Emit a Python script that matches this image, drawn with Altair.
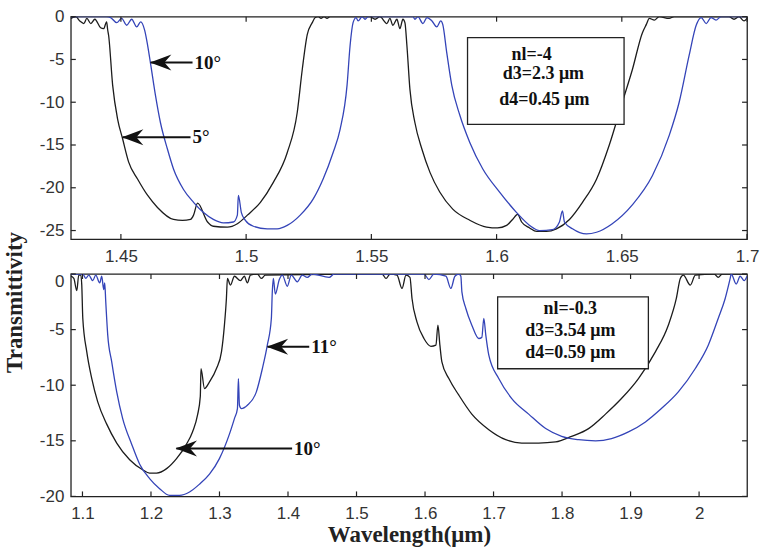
import altair as alt
import pandas as pd

# ---------------- data ----------------
# top panel: nl=-4, 5 deg (black) and 10 deg (blue)
top_5deg = [
    (1.4300, -0.2), (1.4320, 0.0), (1.4336, -0.5), (1.4352, -0.8), (1.4364, -0.2),
    (1.4380, -0.8), (1.4396, -0.3), (1.4419, -1.3), (1.4431, -1.4), (1.4443, -0.6),
    (1.4447, -1.5), (1.4451, -2.2), (1.4467, -8.0), (1.4487, -12.0), (1.4507, -14.3),
    (1.4531, -17.0), (1.4567, -19.0), (1.4607, -20.9), (1.4646, -22.3), (1.4710, -23.7),
    (1.4746, -23.8), (1.4778, -23.7), (1.4790, -23.2), (1.4806, -21.8), (1.4846, -24.0),
    (1.4869, -24.5), (1.4925, -24.6), (1.4965, -24.2), (1.5005, -23.2), (1.5057, -21.7),
    (1.5108, -19.4), (1.5164, -15.9), (1.5204, -11.2), (1.5224, -6.2), (1.5244, -2.1),
    (1.5264, -0.7), (1.5276, -0.1), (1.5288, 0.0), (1.5299, -0.2), (1.5311, 0.0),
    (1.5323, -0.2), (1.5335, 0.0), (1.5495, 0.0), (1.5515, -0.3), (1.5534, 0.0),
    (1.5562, -0.8), (1.5574, -0.2), (1.5586, -1.0), (1.5602, -0.3), (1.5614, -1.4),
    (1.5626, -0.3), (1.5634, -0.7), (1.5642, -3.4), (1.5654, -8.5), (1.5674, -12.4),
    (1.5702, -15.5), (1.5734, -18.2), (1.5773, -20.5), (1.5825, -22.5), (1.5893, -23.8),
    (1.5960, -24.6), (1.6004, -24.7), (1.6040, -24.4), (1.6064, -23.7), (1.6084, -23.1),
    (1.6100, -24.0), (1.6132, -24.7), (1.6160, -25.1), (1.6199, -25.1), (1.6239, -24.8),
    (1.6291, -23.7), (1.6343, -21.7), (1.6399, -19.0), (1.6450, -15.0), (1.6502, -10.0),
    (1.6542, -6.2), (1.6582, -1.9), (1.6598, -0.9), (1.6610, -0.2), (1.6630, -0.4),
    (1.6649, 0.0), (1.6689, -0.2), (1.6709, 0.0), (1.6928, 0.0), (1.6948, -0.3),
    (1.6968, 0.0), (1.6988, -0.5), (1.7000, -0.2),
]
top_10deg = [
    (1.4300, 0.0), (1.4443, 0.0), (1.4459, -0.1), (1.4483, -0.7), (1.4503, -0.2),
    (1.4523, -1.0), (1.4543, -0.3), (1.4563, -1.2), (1.4579, -0.6), (1.4595, -1.6),
    (1.4607, -3.4), (1.4619, -5.6), (1.4638, -9.2), (1.4658, -12.4), (1.4686, -15.5),
    (1.4710, -17.8), (1.4750, -20.2), (1.4790, -21.7), (1.4830, -22.9), (1.4869, -23.7),
    (1.4909, -24.1), (1.4949, -24.0), (1.4965, -23.2), (1.4969, -20.9), (1.4981, -22.9),
    (1.4997, -23.8), (1.5029, -24.5), (1.5084, -24.8), (1.5124, -24.8), (1.5164, -24.4),
    (1.5216, -23.2), (1.5268, -21.3), (1.5307, -19.0), (1.5347, -15.9), (1.5375, -13.2),
    (1.5403, -8.0), (1.5415, -3.4), (1.5427, -0.7), (1.5439, -0.1), (1.5447, -0.5),
    (1.5463, 0.0), (1.5475, -0.3), (1.5487, 0.0), (1.5666, 0.0), (1.5674, -0.3),
    (1.5686, 0.0), (1.5706, -0.8), (1.5722, -0.1), (1.5742, -0.5), (1.5761, -1.2),
    (1.5777, -0.5), (1.5785, -0.9), (1.5801, -4.2), (1.5821, -8.0), (1.5853, -11.5),
    (1.5893, -14.7), (1.5945, -17.8), (1.6012, -20.5), (1.6080, -22.9), (1.6132, -24.4),
    (1.6172, -25.0), (1.6223, -24.9), (1.6251, -24.0), (1.6263, -22.7), (1.6271, -24.0),
    (1.6303, -24.8), (1.6359, -25.4), (1.6399, -25.2), (1.6462, -24.2), (1.6542, -22.0),
    (1.6622, -18.6), (1.6689, -13.9), (1.6729, -10.0), (1.6769, -4.5), (1.6797, -1.0),
    (1.6817, -0.1), (1.6837, -0.8), (1.6856, -0.1), (1.6876, -0.4), (1.6896, 0.0),
    (1.7000, 0.0),
]
# bottom panel: nl=-0.3, 10 deg (black) and 11 deg (blue)
bot_10deg = [
    (1.0830, -0.2), (1.0874, -0.4), (1.0917, -1.5), (1.0946, -0.1), (1.0976, -0.1),
    (1.0990, -1.0), (1.1005, -4.0), (1.1063, -7.0), (1.1136, -9.4), (1.1223, -11.5),
    (1.1354, -13.5), (1.1500, -15.2), (1.1689, -16.7), (1.1878, -17.6), (1.1980, -17.9),
    (1.2082, -17.9), (1.2228, -17.5), (1.2373, -16.6), (1.2519, -15.3), (1.2606, -14.2),
    (1.2679, -12.7), (1.2720, -11.0), (1.2730, -8.5), (1.2781, -10.3), (1.2854, -9.7),
    (1.2956, -8.5), (1.3029, -7.0), (1.3072, -4.6), (1.3101, -2.2), (1.3116, -0.4),
    (1.3160, -1.0), (1.3218, -0.2), (1.3305, -0.6), (1.3363, -0.2), (1.3407, -0.8),
    (1.3451, -0.1), (1.3553, 0.0), (1.3611, -0.4), (1.3669, -0.1), (1.5373, 0.0),
    (1.5431, -0.4), (1.5490, 0.0), (1.5591, -0.1), (1.5664, -1.3), (1.5722, -0.1),
    (1.5780, -0.3), (1.5810, -2.2), (1.5882, -4.3), (1.5984, -5.8), (1.6086, -6.5),
    (1.6159, -6.4), (1.6188, -4.6), (1.6217, -6.4), (1.6246, -7.9), (1.6348, -9.4),
    (1.6494, -10.9), (1.6683, -12.6), (1.6931, -14.0), (1.7178, -14.9), (1.7411, -15.2),
    (1.7659, -15.2), (1.7906, -15.1), (1.8139, -14.6), (1.8387, -13.9), (1.8634, -12.6),
    (1.8867, -11.2), (1.9115, -9.4), (1.9362, -7.0), (1.9551, -4.6), (1.9668, -2.2),
    (1.9726, -0.4), (1.9770, -0.1), (1.9872, -1.0), (1.9945, -0.1), (2.0220, 0.0),
    (2.0279, -0.3), (2.0340, 0.0), (2.0700, 0.0),
]
bot_11deg = [
    (1.0830, 0.0), (1.0990, 0.0), (1.1019, -0.1), (1.1048, -0.4), (1.1092, -0.1),
    (1.1150, -0.6), (1.1194, -0.1), (1.1252, -0.8), (1.1281, -0.2), (1.1310, -1.4),
    (1.1325, -0.8), (1.1340, -2.5), (1.1369, -5.5), (1.1427, -7.9), (1.1500, -10.6),
    (1.1587, -13.0), (1.1718, -15.3), (1.1835, -17.1), (1.1980, -18.4), (1.2126, -19.3),
    (1.2271, -19.9), (1.2417, -19.9), (1.2563, -19.6), (1.2708, -18.9), (1.2854, -18.0),
    (1.2999, -16.6), (1.3145, -14.4), (1.3218, -13.0), (1.3262, -12.1), (1.3276, -9.4),
    (1.3291, -11.8), (1.3320, -12.1), (1.3407, -11.8), (1.3538, -10.6), (1.3626, -8.5),
    (1.3698, -6.4), (1.3757, -4.0), (1.3771, -1.6), (1.3786, -0.4), (1.3815, -1.8),
    (1.3873, -0.5), (1.3917, -0.1), (1.3990, -1.1), (1.4048, -0.1), (1.4135, -0.7),
    (1.4208, -0.1), (1.4281, -0.3), (1.4354, 0.0), (1.4601, -0.3), (1.4674, 0.0),
    (1.5984, 0.0), (1.6057, -0.5), (1.6130, 0.0), (1.6305, -0.2), (1.6377, -1.3),
    (1.6436, -0.2), (1.6494, 0.0), (1.6523, -0.2), (1.6538, -1.6), (1.6596, -3.1),
    (1.6683, -4.6), (1.6785, -5.8), (1.6829, -5.7), (1.6858, -4.0), (1.6887, -5.5),
    (1.6931, -7.3), (1.7076, -9.4), (1.7266, -11.2), (1.7513, -12.6), (1.7761, -13.9),
    (1.7994, -14.6), (1.8241, -14.9), (1.8489, -15.0), (1.8722, -14.8), (1.8969, -14.2),
    (1.9217, -13.3), (1.9450, -12.1), (1.9697, -10.6), (1.9945, -8.5), (2.0134, -6.4),
    (2.0279, -4.0), (2.0381, -2.2), (2.0454, -0.4), (2.0469, 0.0), (2.0542, -0.9),
    (2.0600, -0.2), (2.0658, -0.6), (2.0700, -0.2),
]

top_xdomain = [1.43, 1.70]
top_ydomain = [-26, 0]
bot_xdomain = [1.083, 2.07]
bot_ydomain = [-20, 0]

top_xticks = [1.45, 1.5, 1.55, 1.6, 1.65, 1.7]
top_yticks = [0, -5, -10, -15, -20, -25]
bot_xticks = [1.1, 1.2, 1.3, 1.4, 1.5, 1.6, 1.7, 1.8, 1.9, 2]
bot_yticks = [0, -5, -10, -15, -20]

top_box_lines = ["nl=-4", "d3=2.3 μm", "d4=0.45 μm"]
top_box_line_x = [1.6140, 1.6187, 1.6191]
top_box_line_y = [-4.43, -6.76, -9.79]
top_box_corners = [1.5884, 1.6509, -2.45, -12.6]

bot_box_lines = ["nl=-0.3", "d3=3.54 μm", "d4=0.59 μm"]
bot_box_line_x = [1.812, 1.812, 1.812]
bot_box_line_y = [-3.14, -5.11, -7.09]
bot_box_corners = [1.706, 1.926, -2.06, -8.52]

top_arrow_labels = ["10°", "5°"]
top_arrow_tip = [1.4619, 1.4507]
top_arrow_tail = [1.4786, 1.4778]
top_arrow_y = [-5.36, -14.1]

bot_arrow_labels = ["11°", "10°"]
bot_arrow_tip = [1.370, 1.237]
bot_arrow_tail = [1.431, 1.406]
bot_arrow_y = [-6.55, -15.7]

# ---------------- styling ----------------
W, H = 678, 223
BLACK = "#1c1c1c"
BLUE = "#3444b8"
FRAME = "#222222"
SANS = "Liberation Sans"
SERIF = "Liberation Serif"
ARROW_PATH = "M -1 0 L 1 -0.75 L 0.35 0 L 1 0.75 Z"


def panel(curves, xdom, ydom, xticks, yticks, box, box_lines, box_x, box_y,
          a_labels, a_tip, a_tail, a_y, xtitle, ytitle, zero_lower):
    xs = alt.Scale(domain=xdom, nice=False, zero=False)
    ys = alt.Scale(domain=ydom, nice=False, zero=False)

    xaxis_kw = dict(values=xticks, labelExpr="'' + datum.value", ticks=False,
                    domain=False, grid=False, labelFont=SANS, labelFontSize=17,
                    labelColor="#333", labelPadding=9, labelFlush=False)
    if xtitle:
        xaxis_kw.update(title=xtitle, titleFont=SERIF, titleFontWeight="bold",
                        titleFontSize=23, titleColor="#222", titlePadding=2)
    else:
        xaxis_kw.update(title=None)
    yaxis_kw = dict(values=yticks, labelExpr="'' + datum.value", ticks=False,
                    domain=False, grid=False, labelFont=SANS, labelFontSize=17,
                    labelColor="#333", labelPadding=7)
    if zero_lower:
        yaxis_kw["labelBaseline"] = {"condition": {"test": "datum.value == 0", "value": "top"},
                                     "value": "middle"}
    if ytitle:
        yaxis_kw.update(title=ytitle, titleFont=SERIF, titleFontWeight="bold",
                        titleFontSize=23, titleColor="#222", titleAngle=270,
                        titleAlign="center", titleBaseline="middle",
                        titleX=-56, titleY=286)
    else:
        yaxis_kw.update(title=None)

    xaxis = alt.Axis(**xaxis_kw)
    yaxis = alt.Axis(**yaxis_kw)

    def X(f):
        return alt.X(f, scale=xs, axis=xaxis)

    def Y(f):
        return alt.Y(f, scale=ys, axis=yaxis)

    layers = []
    for pts, color in curves:
        df = pd.DataFrame(pts, columns=["wl", "t"])
        layers.append(
            alt.Chart(df).mark_line(color=color, strokeWidth=1.3, clip=True,
                                    interpolate="monotone").encode(
                x=X("wl:Q"), y=Y("t:Q"), order="wl:Q",
            )
        )

    # inward ticks on all four sides
    xt = pd.DataFrame({"v": xticks})
    yt = pd.DataFrame({"v": yticks})
    for y0, y1 in [(H, H - 5), (0, 5)]:
        layers.append(alt.Chart(xt).mark_rule(color=FRAME, strokeWidth=1.2).encode(
            x=X("v:Q"), y=alt.value(y0), y2=alt.value(y1)))
    for x0, x1 in [(0, 5), (W, W - 5)]:
        layers.append(alt.Chart(yt).mark_rule(color=FRAME, strokeWidth=1.2).encode(
            y=Y("v:Q"), x=alt.value(x0), x2=alt.value(x1)))

    # parameter box
    bdf = pd.DataFrame({"x1": [box[0]], "x2": [box[1]], "y1": [box[2]], "y2": [box[3]]})
    layers.append(alt.Chart(bdf).mark_rect(fill="white", stroke=FRAME, strokeWidth=1.3).encode(
        x=X("x1:Q"), x2="x2:Q", y=Y("y1:Q"), y2="y2:Q"))
    tdf = pd.DataFrame({"x": box_x, "y": box_y, "s": box_lines})
    layers.append(alt.Chart(tdf).mark_text(font=SERIF, fontWeight="bold", fontSize=18,
                                           color="#111", align="center", baseline="middle").encode(
        x=X("x:Q"), y=Y("y:Q"), text="s:N"))

    # arrows
    adf = pd.DataFrame({"tip": a_tip, "tail": a_tail, "y": a_y, "s": a_labels})
    layers.append(alt.Chart(adf).mark_rule(color="#111", strokeWidth=2).encode(
        x=X("tip:Q"), x2="tail:Q", y=Y("y:Q")))
    layers.append(alt.Chart(adf).mark_point(shape=ARROW_PATH, filled=True, size=460,
                                            color="#111", opacity=1, xOffset=10).encode(
        x=X("tip:Q"), y=Y("y:Q")))
    layers.append(alt.Chart(adf).mark_text(font=SERIF, fontWeight="bold", fontSize=19,
                                           color="#111", align="left", baseline="middle", dx=2).encode(
        x=X("tail:Q"), y=Y("y:Q"), text="s:N"))

    return alt.layer(*layers).properties(width=W, height=H)


top = panel([(top_5deg, BLACK), (top_10deg, BLUE)], top_xdomain, top_ydomain,
            top_xticks, top_yticks, top_box_corners, top_box_lines, top_box_line_x,
            top_box_line_y, top_arrow_labels, top_arrow_tip, top_arrow_tail, top_arrow_y,
            None, "Transmittivity", False)
bottom = panel([(bot_10deg, BLACK), (bot_11deg, BLUE)], bot_xdomain, bot_ydomain,
               bot_xticks, bot_yticks, bot_box_corners, bot_box_lines, bot_box_line_x,
               bot_box_line_y, bot_arrow_labels, bot_arrow_tip, bot_arrow_tail, bot_arrow_y,
               "Wavelength(μm)", None, True)

chart = alt.vconcat(top, bottom, spacing=35, bounds="flush").configure_view(
    stroke=FRAME, strokeWidth=1.3
).properties(
    padding={"left": 3, "top": 6, "right": 2, "bottom": 4},
    background="white",
)

chart.save("out.html", embed_options={"renderer": "svg", "actions": False})
